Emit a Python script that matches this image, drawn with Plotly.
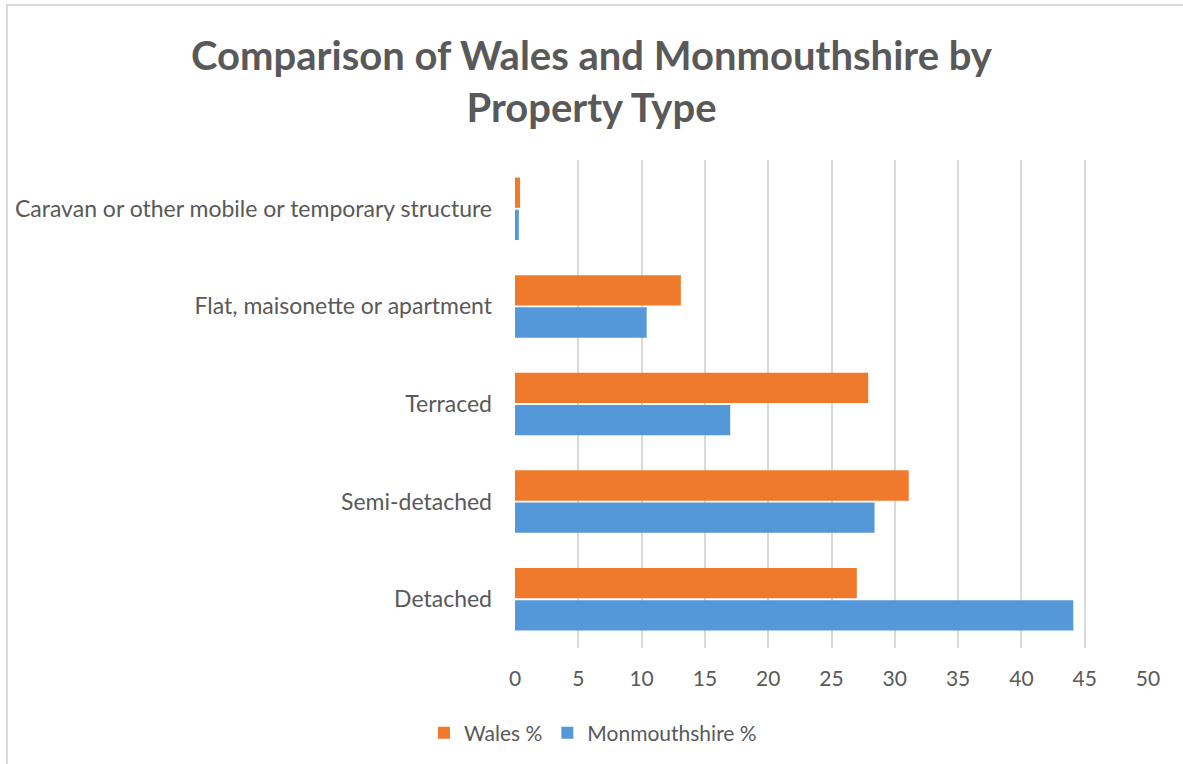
import plotly.graph_objects as go

categories = ["Detached", "Semi-detached", "Terraced", "Flat, maisonette or apartment",
              "Caravan or other mobile or temporary structure"]
wales = [27.0, 31.1, 27.9, 13.1, 0.4]
monmouthshire = [44.1, 28.4, 17.0, 10.4, 0.3]
x_ticks = [0, 5, 10, 15, 20, 25, 30, 35, 40, 45, 50]

TXT = "#595959"
FONT = "Lato, 'Open Sans', sans-serif"

W, H = 1183, 764
L, R, T, B = 515, 35, 160, 116
PW, PH = W - L - R, H - T - B


def px(x):
    return (x - L) / PW


def py(y):
    return (H - B - y) / PH


fig = go.Figure()
fig.add_trace(go.Bar(y=categories, x=monmouthshire, orientation="h", name="Monmouthshire %",
                     marker=dict(color="#5498DA", line=dict(width=0))))
fig.add_trace(go.Bar(y=categories, x=wales, orientation="h", name="Wales %",
                     marker=dict(color="#EF7A2C", line=dict(width=0))))

fig.update_layout(
    width=W, height=H,
    paper_bgcolor="white", plot_bgcolor="white",
    barmode="group", bargap=0.34, bargroupgap=0.06,
    margin=dict(l=L, r=R, t=T, b=B, autoexpand=False),
    title=dict(text="<b>Comparison of Wales and Monmouthshire by<br>Property Type</b>",
               x=0.5, xanchor="center", y=1 - 70 / H, yanchor="middle",
               font=dict(family=FONT, size=40, color=TXT)),
    font=dict(family=FONT, size=21, color=TXT),
    xaxis=dict(range=[0, 50], tickvals=x_ticks, showgrid=True, gridcolor="#D9D9D9", gridwidth=2,
               zeroline=False, showline=False, ticks="", ticklabelstandoff=16,
               tickfont=dict(size=21, color=TXT), fixedrange=True),
    yaxis=dict(showgrid=False, zeroline=False, showline=False, ticks="", ticklabelstandoff=22,
               tickfont=dict(size=23, color=TXT), categoryorder="array", categoryarray=categories),
    legend=dict(orientation="h", x=px(593), xanchor="center", y=py(733), yanchor="middle",
                traceorder="reversed", font=dict(size=21, color=TXT), itemwidth=30),
    showlegend=True,
)
fig.add_shape(type="line", xref="paper", yref="paper", x0=px(6), x1=px(1200), y0=py(5), y1=py(5),
              line=dict(color="#D9D9D9", width=2))
fig.add_shape(type="line", xref="paper", yref="paper", x0=px(7), x1=px(7), y0=py(4), y1=py(800),
              line=dict(color="#D9D9D9", width=2))

fig.write_html("out.html", config={"displayModeBar": False},
               post_script="document.body.style.margin='0';")
